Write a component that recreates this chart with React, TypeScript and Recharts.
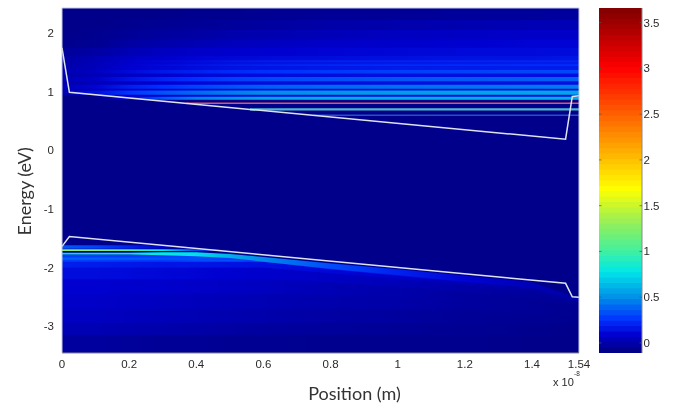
import React from 'react';
import { ComposedChart, Area, Line, XAxis, YAxis, ReferenceArea, ReferenceLine } from 'recharts';

// position columns (x 10^-8 m) shared by every band of the density map
const positions = [0, 0.1, 0.2, 0.3, 0.4, 0.5, 0.6, 0.8, 1.0, 1.2, 1.4, 1.54];

const xTicks = [0, 0.2, 0.4, 0.6, 0.8, 1, 1.2, 1.4, 1.54];
const yTicks = [-3, -2, -1, 0, 1, 2];
const barTicks = [0, 0.5, 1, 1.5, 2, 2.5, 3, 3.5];

// colour bar: value -> colour
const barValues = [-0.11, 0.09, 0.25, 0.5, 0.78, 1.0, 1.35, 1.68, 2.0, 2.5, 3.0, 3.66];
const barColors = ['#00007f', '#0000d0', '#0030ff', '#0090e8', '#00e8e8', '#40f0a0', '#a0f050', '#ffff00', '#ffc000', '#ff6000', '#ff0000', '#7f0000'];
const backgroundLevel = -0.08;

// conduction side, wide dim bands above the well
const condTop = [2.43, 2.23, 2.06, 1.89, 1.75, 1.61, 1.51, 1.43];
const condBottom = [2.23, 2.06, 1.89, 1.75, 1.61, 1.51, 1.43, 1.37];
const condLevels = [
  [-0.08, -0.08, -0.08, -0.08, -0.07, -0.07, -0.06, -0.05, -0.05, -0.04, -0.04, -0.03],
  [-0.08, -0.08, -0.07, -0.06, -0.05, -0.04, -0.03, -0.01, 0, 0.01, 0.02, 0.02],
  [-0.08, -0.07, -0.05, -0.03, -0.02, 0, 0.01, 0.03, 0.05, 0.06, 0.07, 0.07],
  [-0.07, -0.06, -0.02, 0, 0.02, 0.04, 0.05, 0.07, 0.08, 0.09, 0.1, 0.1],
  [-0.04, -0.02, 0.02, 0.05, 0.07, 0.08, 0.09, 0.1, 0.11, 0.12, 0.12, 0.13],
  [-0.02, 0.02, 0.06, 0.08, 0.1, 0.11, 0.12, 0.13, 0.14, 0.15, 0.15, 0.16],
  [-0.01, 0.03, 0.08, 0.1, 0.12, 0.14, 0.15, 0.16, 0.17, 0.17, 0.18, 0.18],
  [0, 0.04, 0.09, 0.11, 0.13, 0.15, 0.16, 0.17, 0.18, 0.18, 0.18, 0.18],
];

// the band just above the conduction edge, its lower side follows the edge
const wellFloor = [1.0, 0.95, 0.89, 0.86, 0.86, 0.86, 0.86, 0.86, 0.86, 0.86, 0.86, 0.86];
const wellLevels = [0, 0.03, 0.06, 0.09, 0.11, 0.12, 0.13, 0.13, 0.14, 0.14, 0.14, 0.14];

// bright horizontal subbands
const stripeTop = [1.54, 1.47, 1.37, 1.25, 1.12, 1.02, 0.915];
const stripeBottom = [1.51, 1.44, 1.31, 1.18, 1.05, 0.95, 0.865];
const stripeLevels = [
  [-0.01, 0.02, 0.08, 0.11, 0.13, 0.16, 0.18, 0.2, 0.2, 0.21, 0.21, 0.21],
  [0, 0.03, 0.09, 0.12, 0.15, 0.18, 0.2, 0.22, 0.23, 0.23, 0.24, 0.24],
  [0.02, 0.05, 0.12, 0.17, 0.2, 0.23, 0.25, 0.27, 0.29, 0.3, 0.31, 0.31],
  [0.03, 0.07, 0.15, 0.21, 0.25, 0.29, 0.31, 0.33, 0.35, 0.36, 0.37, 0.38],
  [0.05, 0.1, 0.19, 0.25, 0.3, 0.34, 0.37, 0.4, 0.42, 0.43, 0.44, 0.45],
  [0.02, 0.14, 0.26, 0.34, 0.4, 0.45, 0.49, 0.52, 0.54, 0.56, 0.57, 0.57],
  [-0.08, -0.08, 0.1, 0.35, 0.47, 0.52, 0.57, 0.6, 0.6, 0.6, 0.6, 0.6],
];

// valence side, curves from top to bottom and the level between each pair
const valenceCurves = [
  [-1.78, -1.78, -1.78, -1.78, -1.78, -1.8, -1.84, -1.95, -2.06, -2.17, -2.27, -2.55],
  [-1.9, -1.9, -1.9, -1.9, -1.9, -1.9, -1.9, -2.03, -2.14, -2.25, -2.35, -2.6],
  [-2.0, -2.0, -2.0, -2.0, -2.0, -2.0, -2.0, -2.1, -2.2, -2.3, -2.42, -2.65],
  [-2.2, -2.2, -2.2, -2.2, -2.2, -2.2, -2.2, -2.25, -2.32, -2.42, -2.52, -2.7],
  [-2.45, -2.45, -2.45, -2.45, -2.45, -2.45, -2.45, -2.47, -2.5, -2.58, -2.65, -2.75],
  [-2.7, -2.7, -2.7, -2.7, -2.7, -2.7, -2.7, -2.7, -2.7, -2.72, -2.78, -2.85],
  [-2.95, -2.95, -2.95, -2.95, -2.95, -2.95, -2.95, -2.95, -2.95, -2.95, -2.95, -2.95],
  [-3.15, -3.15, -3.15, -3.15, -3.15, -3.15, -3.15, -3.15, -3.15, -3.15, -3.15, -3.15],
  [-3.46, -3.46, -3.46, -3.46, -3.46, -3.46, -3.46, -3.46, -3.46, -3.46, -3.46, -3.46],
];
const valenceLevels = [
  [0.28, 0.28, 0.27, 0.27, 0.32, 0.33, 0.3, 0.22, 0.14, 0.07, 0, -0.05],
  [0.19, 0.18, 0.17, 0.16, 0.16, 0.15, 0.14, 0.11, 0.07, 0.02, -0.02, -0.05],
  [0.13, 0.13, 0.12, 0.11, 0.1, 0.09, 0.08, 0.06, 0.03, -0.01, -0.04, -0.06],
  [0.09, 0.09, 0.08, 0.08, 0.07, 0.06, 0.05, 0.02, 0, -0.03, -0.05, -0.07],
  [0.07, 0.07, 0.06, 0.05, 0.04, 0.03, 0.02, 0, -0.01, -0.03, -0.05, -0.07],
  [0.05, 0.05, 0.04, 0.03, 0.02, 0.01, 0, -0.02, -0.03, -0.05, -0.06, -0.07],
  [0.02, 0.02, 0.01, 0, -0.01, -0.02, -0.03, -0.04, -0.05, -0.06, -0.07, -0.08],
  [-0.03, -0.03, -0.04, -0.05, -0.05, -0.06, -0.06, -0.07, -0.07, -0.07, -0.08, -0.08],
];

// narrow bright bands under the valence edge
const ridgeTop = [
  [-1.62, -1.62, -1.62, -1.62, -1.62, -1.62, -1.62, -1.62, -1.62, -1.62, -1.62, -1.62],
  [-1.69, -1.69, -1.69, -1.69, -1.69, -1.69, -1.69, -1.69, -1.69, -1.69, -1.69, -1.69],
  [-1.83, -1.83, -1.83, -1.83, -1.83, -1.83, -1.83, -1.93, -2.04, -2.15, -2.25, -2.53],
  [-1.75, -1.75, -1.75, -1.74, -1.74, -1.77, -1.82, -1.93, -2.03, -2.14, -2.25, -2.53],
];
const ridgeBottom = [
  [-1.68, -1.68, -1.68, -1.68, -1.68, -1.68, -1.68, -1.68, -1.68, -1.68, -1.68, -1.68],
  [-1.72, -1.72, -1.72, -1.72, -1.72, -1.72, -1.72, -1.72, -1.72, -1.72, -1.72, -1.72],
  [-1.87, -1.87, -1.87, -1.87, -1.87, -1.87, -1.9, -2.0, -2.1, -2.2, -2.3, -2.55],
  [-1.78, -1.78, -1.78, -1.79, -1.81, -1.84, -1.9, -2.02, -2.13, -2.24, -2.34, -2.58],
];
const ridgeLevels = [
  [0.35, 0.3, 0.2, 0.05, -0.08, -0.08, -0.08, -0.08, -0.08, -0.08, -0.08, -0.08],
  [1.3, 1.25, 1.1, 0.8, 0.3, -0.08, -0.08, -0.08, -0.08, -0.08, -0.08, -0.08],
  [0.38, 0.37, 0.36, 0.34, 0.32, 0.28, 0.24, 0.16, 0.1, 0.05, 0, -0.05],
  [0.75, 0.78, 0.8, 0.8, 0.75, 0.6, 0.48, 0.32, 0.2, 0.1, 0.03, -0.02],
];

// sharp subband lines: energy, where each starts, colour
const lineEnergies = [0.805, 0.7, 0.6];
const lineStarts = [0.37, 0.56, 0.75];
const lineColors = ['#d65a5e', '#4fb9c9', '#2a50c0'];
const lineWidths = [1.6, 2.4, 1.4];

// band edges
const conductionEdge = [
  { x: 0, e: 1.75 }, { x: 0.022, e: 0.99 }, { x: 1.5, e: 0.19 }, { x: 1.52, e: 0.92 }, { x: 1.54, e: 0.93 },
];
const valenceEdge = [
  { x: 0, e: -1.64 }, { x: 0.022, e: -1.47 }, { x: 1.5, e: -2.27 }, { x: 1.52, e: -2.5 }, { x: 1.54, e: -2.51 },
];

const toRgb = (hex: string) => [1, 3, 5].map((i) => parseInt(hex.slice(i, i + 2), 16));

const levelColor = (v: number) => {
  let i = 0;
  while (i < barValues.length - 2 && v > barValues[i + 1]) i++;
  const t = Math.min(1, Math.max(0, (v - barValues[i]) / (barValues[i + 1] - barValues[i])));
  const a = toRgb(barColors[i]);
  const b = toRgb(barColors[i + 1]);
  return `rgb(${a.map((c, k) => Math.round(c + (b[k] - c) * t)).join(',')})`;
};

type Band = { key: string; top: number[]; bottom: number[]; levels: number[]; overlap: number };

const bands: Band[] = [];
condLevels.forEach((levels, i) => {
  bands.push({ key: `cond${i}`, top: positions.map(() => condTop[i]), bottom: positions.map(() => condBottom[i]), levels, overlap: 0.012 });
});
bands.push({ key: 'well', top: positions.map(() => condBottom[condBottom.length - 1]), bottom: wellFloor, levels: wellLevels, overlap: 0 });
stripeLevels.forEach((levels, i) => {
  bands.push({ key: `stripe${i}`, top: positions.map(() => stripeTop[i]), bottom: positions.map(() => stripeBottom[i]), levels, overlap: 0 });
});
valenceLevels.forEach((levels, i) => {
  bands.push({ key: `val${i}`, top: valenceCurves[i], bottom: valenceCurves[i + 1], levels, overlap: 0.012 });
});
ridgeLevels.forEach((levels, i) => {
  bands.push({ key: `ridge${i}`, top: ridgeTop[i], bottom: ridgeBottom[i], levels, overlap: 0 });
});

const tableData = positions.map((x, c) => {
  const row: any = { x, base: [-3.46, 2.43] };
  bands.forEach((b) => { row[b.key] = [b.bottom[c] - b.overlap, b.top[c]]; });
  return row;
});

// 64 steps of the colour bar
const barSteps = Array.from({ length: 64 }, (_, i) => -0.11 + (i * 3.77) / 64);
const barData = [{ x: 0 }, { x: 1 }];

const tickFont = { fontFamily: '"Liberation Sans", Arial, sans-serif', fontSize: 11.5, fill: '#2a2a2a' };
const labelFont = { fontFamily: 'Lato, "Open Sans", sans-serif', fontSize: 18, fill: '#333' };

const BarTick = (props: any) => {
  const { y, payload } = props;
  return (
    <g>
      <line x1={0} x2={2.5} y1={y} y2={y} stroke="#555" strokeWidth={0.7} />
      <line x1={43} x2={40.5} y1={y} y2={y} stroke="#555" strokeWidth={0.7} />
      <text x={44.5} y={y + 4} style={tickFont}>{payload.value}</text>
    </g>
  );
};

export default function App() {
  return (
    <div style={{ position: 'absolute', left: 0, top: 0, width: 675, height: 406, background: '#fff', filter: 'blur(0.45px)' }}>
      <div style={{ position: 'absolute', left: 0, top: 0 }}>
        <ComposedChart width={675} height={406} data={tableData} margin={{ top: 8, right: 96, bottom: 0, left: 0 }}>
          <defs>
            {bands.map((b) => (
              <linearGradient key={b.key} id={`grad-${b.key}`} x1="0" y1="0" x2="1" y2="0">
                {b.levels.map((v, c) => (
                  <stop key={c} offset={positions[c] / 1.54} stopColor={levelColor(v)} />
                ))}
              </linearGradient>
            ))}
          </defs>
          <XAxis
            dataKey="x"
            type="number"
            domain={[0, 1.54]}
            ticks={xTicks}
            allowDataOverflow
            height={53}
            interval={0}
            tick={tickFont}
            tickLine={false}
            tickMargin={1}
            stroke="#8a8a8a"
            label={{ value: 'Position (m)', position: 'insideBottom', dx: 34, offset: 6, style: labelFont }}
          />
          <YAxis
            type="number"
            domain={[-3.46, 2.43]}
            ticks={yTicks}
            allowDataOverflow
            width={62}
            interval={0}
            tick={tickFont}
            tickLine={false}
            tickMargin={2}
            stroke="#c4c9dc"
            label={{ value: 'Energy (eV)', angle: -90, position: 'insideLeft', dx: 20, dy: 55, style: labelFont }}
          />
          <Area dataKey="base" fill={levelColor(backgroundLevel)} fillOpacity={1} stroke="none" isAnimationActive={false} dot={false} activeDot={false} />
          {bands.map((b) => (
            <Area key={b.key} dataKey={b.key} fill={`url(#grad-${b.key})`} fillOpacity={1} stroke="none" isAnimationActive={false} dot={false} activeDot={false} />
          ))}
          {lineEnergies.map((e, i) => (
            <Line
              key={e}
              data={[{ x: lineStarts[i], e }, { x: 1.54, e }]}
              dataKey="e"
              stroke={lineColors[i]}
              strokeWidth={lineWidths[i]}
              dot={false}
              activeDot={false}
              isAnimationActive={false}
            />
          ))}
          <Line data={conductionEdge} dataKey="e" stroke="#dfe3ee" strokeWidth={1.5} dot={false} activeDot={false} isAnimationActive={false} />
          <Line data={valenceEdge} dataKey="e" stroke="#dfe3ee" strokeWidth={1.5} dot={false} activeDot={false} isAnimationActive={false} />
          <ReferenceLine y={2.43} stroke="#c4c9dc" />
          <ReferenceLine x={1.54} stroke="#c4c9dc" />
          <text x={553} y={386} style={{ ...tickFont, fontSize: 11 }}>x 10</text>
          <text x={574} y={376} style={{ ...tickFont, fontSize: 6.5 }}>-8</text>
        </ComposedChart>
      </div>
      <div style={{ position: 'absolute', left: 599, top: 0 }}>
        <ComposedChart width={76} height={406} data={barData} margin={{ top: 8, right: 0, bottom: 53, left: 0 }}>
          <XAxis dataKey="x" type="number" domain={[0, 1]} hide />
          <YAxis
            orientation="right"
            type="number"
            domain={[-0.11, 3.66]}
            ticks={barTicks}
            allowDataOverflow
            width={33}
            interval={0}
            tick={<BarTick />}
            tickLine={false}
            stroke="#8a8a8a"
          />
          {barSteps.map((v) => (
            <ReferenceArea key={v} y1={v} y2={3.66} x1={0} x2={1} fill={levelColor(v + 0.03)} fillOpacity={1} stroke="none" />
          ))}
        </ComposedChart>
      </div>
    </div>
  );
}
